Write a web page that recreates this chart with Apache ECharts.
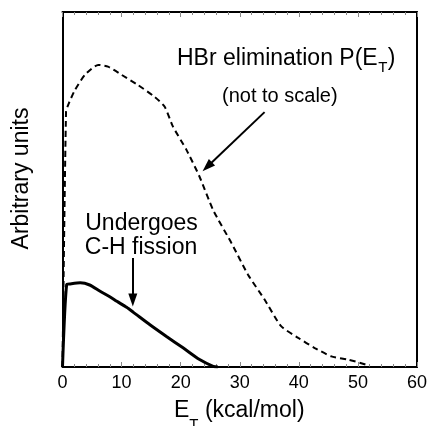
<!DOCTYPE html>
<html>
<head>
<meta charset="utf-8">
<script src="https://cdn.jsdelivr.net/npm/echarts@6/dist/echarts.min.js"></script>
<style>
  html, body { margin: 0; padding: 0; background: #fff; }
  #chart { width: 430px; height: 426px; }
</style>
</head>
<body>
<div id="chart"></div>
<script>
// Translational energy distributions, E_T in kcal/mol, intensity in arbitrary units
const hbrEnergy = [0, 0.6, 1.0, 2.1, 3.8, 6.05, 7.7, 10.0, 12.8, 15.6, 17.3, 18.7, 21.0, 23.2, 25.5, 28.6, 31.4, 34.2, 37.0, 39.9, 42.7, 45.5, 48.3, 51.4, 51.9];
const hbrIntensity = [0, 72, 74, 78, 82.3, 85.1, 84.6, 82.3, 79.4, 76.1, 73.3, 67.7, 61.1, 53.6, 44.2, 34.9, 26.0, 19.0, 11.5, 8.2, 5.35, 3.0, 2.1, 0.65, 0];

const chEnergy = [0, 0.7, 1.3, 3.0, 4.6, 6.3, 8.0, 9.2, 10.85, 12.0, 14.8, 17.6, 20.4, 23.2, 25.5, 26.3];
const chIntensity = [0, 23.2, 23.4, 23.7, 23.1, 21.4, 19.8, 18.5, 16.8, 15.4, 11.9, 8.6, 5.4, 2.1, 0.2, 0];

const xTicks = { min: 0, max: 60, interval: 10 };

// Annotation arrows: [start, end] in data coordinates
const arrowHbr = [[34.2, 71.8], [24.5, 56.4]];
const arrowCh = [[11.9, 30.7], [11.9, 18.9]];

const FONT = '"Liberation Sans", Arial, Helvetica, sans-serif';

function zip(xs, ys) { return xs.map((x, i) => [x, ys[i]]); }

// Text with a subscript: pieces laid out left to right from x, each on its own baseline.
const measureCtx = document.createElement('canvas').getContext('2d');
function textWidth(str, size) {
  measureCtx.font = size + 'px ' + FONT;
  return measureCtx.measureText(str).width;
}
function textRun(x, pieces) {
  const out = [];
  let cx = x;
  pieces.forEach(p => {
    out.push({
      type: 'text', x: cx, y: p.baseline - 0.31 * p.size, silent: true,
      style: { text: p.text, fontFamily: FONT, fontSize: p.size, lineHeight: p.size, fill: '#000', align: 'left', verticalAlign: 'middle' }
    });
    cx += textWidth(p.text, p.size) + (p.gap || 0);
  });
  return out;
}

const chart = echarts.init(document.getElementById('chart'), null, { renderer: 'canvas' });

const frame = { color: '#000', width: 2 };
const tickStyle = { color: '#888', width: 1 };

chart.setOption({
  animation: false,
  backgroundColor: '#fff',
  grid: { left: 62.5, right: 13, top: 12, bottom: 59, outerBoundsMode: 'none', containLabel: false },
  xAxis: [
    {
      type: 'value', position: 'bottom',
      min: xTicks.min, max: xTicks.max, interval: xTicks.interval,
      axisLine: { show: true, onZero: false, lineStyle: frame },
      axisTick: { show: true, inside: true, length: 5, lineStyle: tickStyle },
      minorTick: { show: true, splitNumber: 5, length: 3, lineStyle: tickStyle },
      splitLine: { show: false },
      axisLabel: { fontFamily: FONT, fontSize: 18, color: '#000', margin: 7 }
    },
    {
      type: 'value', position: 'top',
      min: xTicks.min, max: xTicks.max, interval: xTicks.interval,
      axisLine: { show: true, onZero: false, lineStyle: frame },
      axisTick: { show: true, inside: true, length: 5, lineStyle: tickStyle },
      minorTick: { show: true, splitNumber: 5, length: 3, lineStyle: tickStyle },
      splitLine: { show: false },
      axisLabel: { show: false }
    }
  ],
  yAxis: [
    {
      type: 'value', position: 'left', min: 0, max: 100,
      axisLine: { show: true, onZero: false, lineStyle: frame },
      axisTick: { show: false }, splitLine: { show: false }, axisLabel: { show: false }
    },
    {
      type: 'value', position: 'right', min: 0, max: 100,
      axisLine: { show: true, onZero: false, lineStyle: frame },
      axisTick: { show: false }, splitLine: { show: false }, axisLabel: { show: false }
    }
  ],
  series: [
    {
      name: 'HBr elimination',
      type: 'line', xAxisIndex: 0, yAxisIndex: 0,
      data: zip(hbrEnergy, hbrIntensity),
      showSymbol: false, smooth: 0.2,
      lineStyle: { color: '#000', width: 2, type: [6, 4] }
    },
    {
      name: 'C-H fission',
      type: 'line', xAxisIndex: 0, yAxisIndex: 0,
      data: zip(chEnergy, chIntensity),
      showSymbol: false, smooth: 0.25,
      lineStyle: { color: '#000', width: 3 },
      markLine: {
        silent: true, animation: false,
        symbol: ['none', 'triangle'], symbolSize: [9, 13],
        label: { show: false },
        lineStyle: { color: '#000', width: 2, type: 'solid' },
        emphasis: { disabled: true },
        data: [
          [{ coord: arrowHbr[0] }, { coord: arrowHbr[1] }],
          [{ coord: arrowCh[0] }, { coord: arrowCh[1] }]
        ]
      }
    }
  ],
  graphic: [
    {
      type: 'text', x: 21.5, y: 178.5, rotation: Math.PI / 2, silent: true,
      style: { text: 'Arbitrary units', fontFamily: FONT, fontSize: 23, lineHeight: 23, fill: '#000', align: 'center', verticalAlign: 'middle' }
    },
    ...textRun(177, [
      { text: 'HBr elimination P(E', size: 23, baseline: 66, gap: 0.5 },
      { text: 'T', size: 15, baseline: 72.7, gap: 0.5 },
      { text: ')', size: 23, baseline: 66 }
    ]),
    {
      type: 'text', x: 222, y: 103 - 0.31 * 20, silent: true,
      style: { text: '(not to scale)', fontFamily: FONT, fontSize: 20, lineHeight: 20, fill: '#000', align: 'left', verticalAlign: 'middle' }
    },
    {
      type: 'text', x: 141.5, y: 231 - 0.31 * 23, silent: true,
      style: { text: 'Undergoes', fontFamily: FONT, fontSize: 23, lineHeight: 23, fill: '#000', align: 'center', verticalAlign: 'middle' }
    },
    {
      type: 'text', x: 141, y: 255 - 0.31 * 23, silent: true,
      style: { text: 'C-H fission', fontFamily: FONT, fontSize: 23, lineHeight: 23, fill: '#000', align: 'center', verticalAlign: 'middle' }
    },
    ...textRun(174, [
      { text: 'E', size: 23, baseline: 418, gap: 0 },
      { text: 'T', size: 15, baseline: 430, gap: 0 },
      { text: ' (kcal/mol)', size: 23, baseline: 418 }
    ])
  ]
});
</script>
</body>
</html>
